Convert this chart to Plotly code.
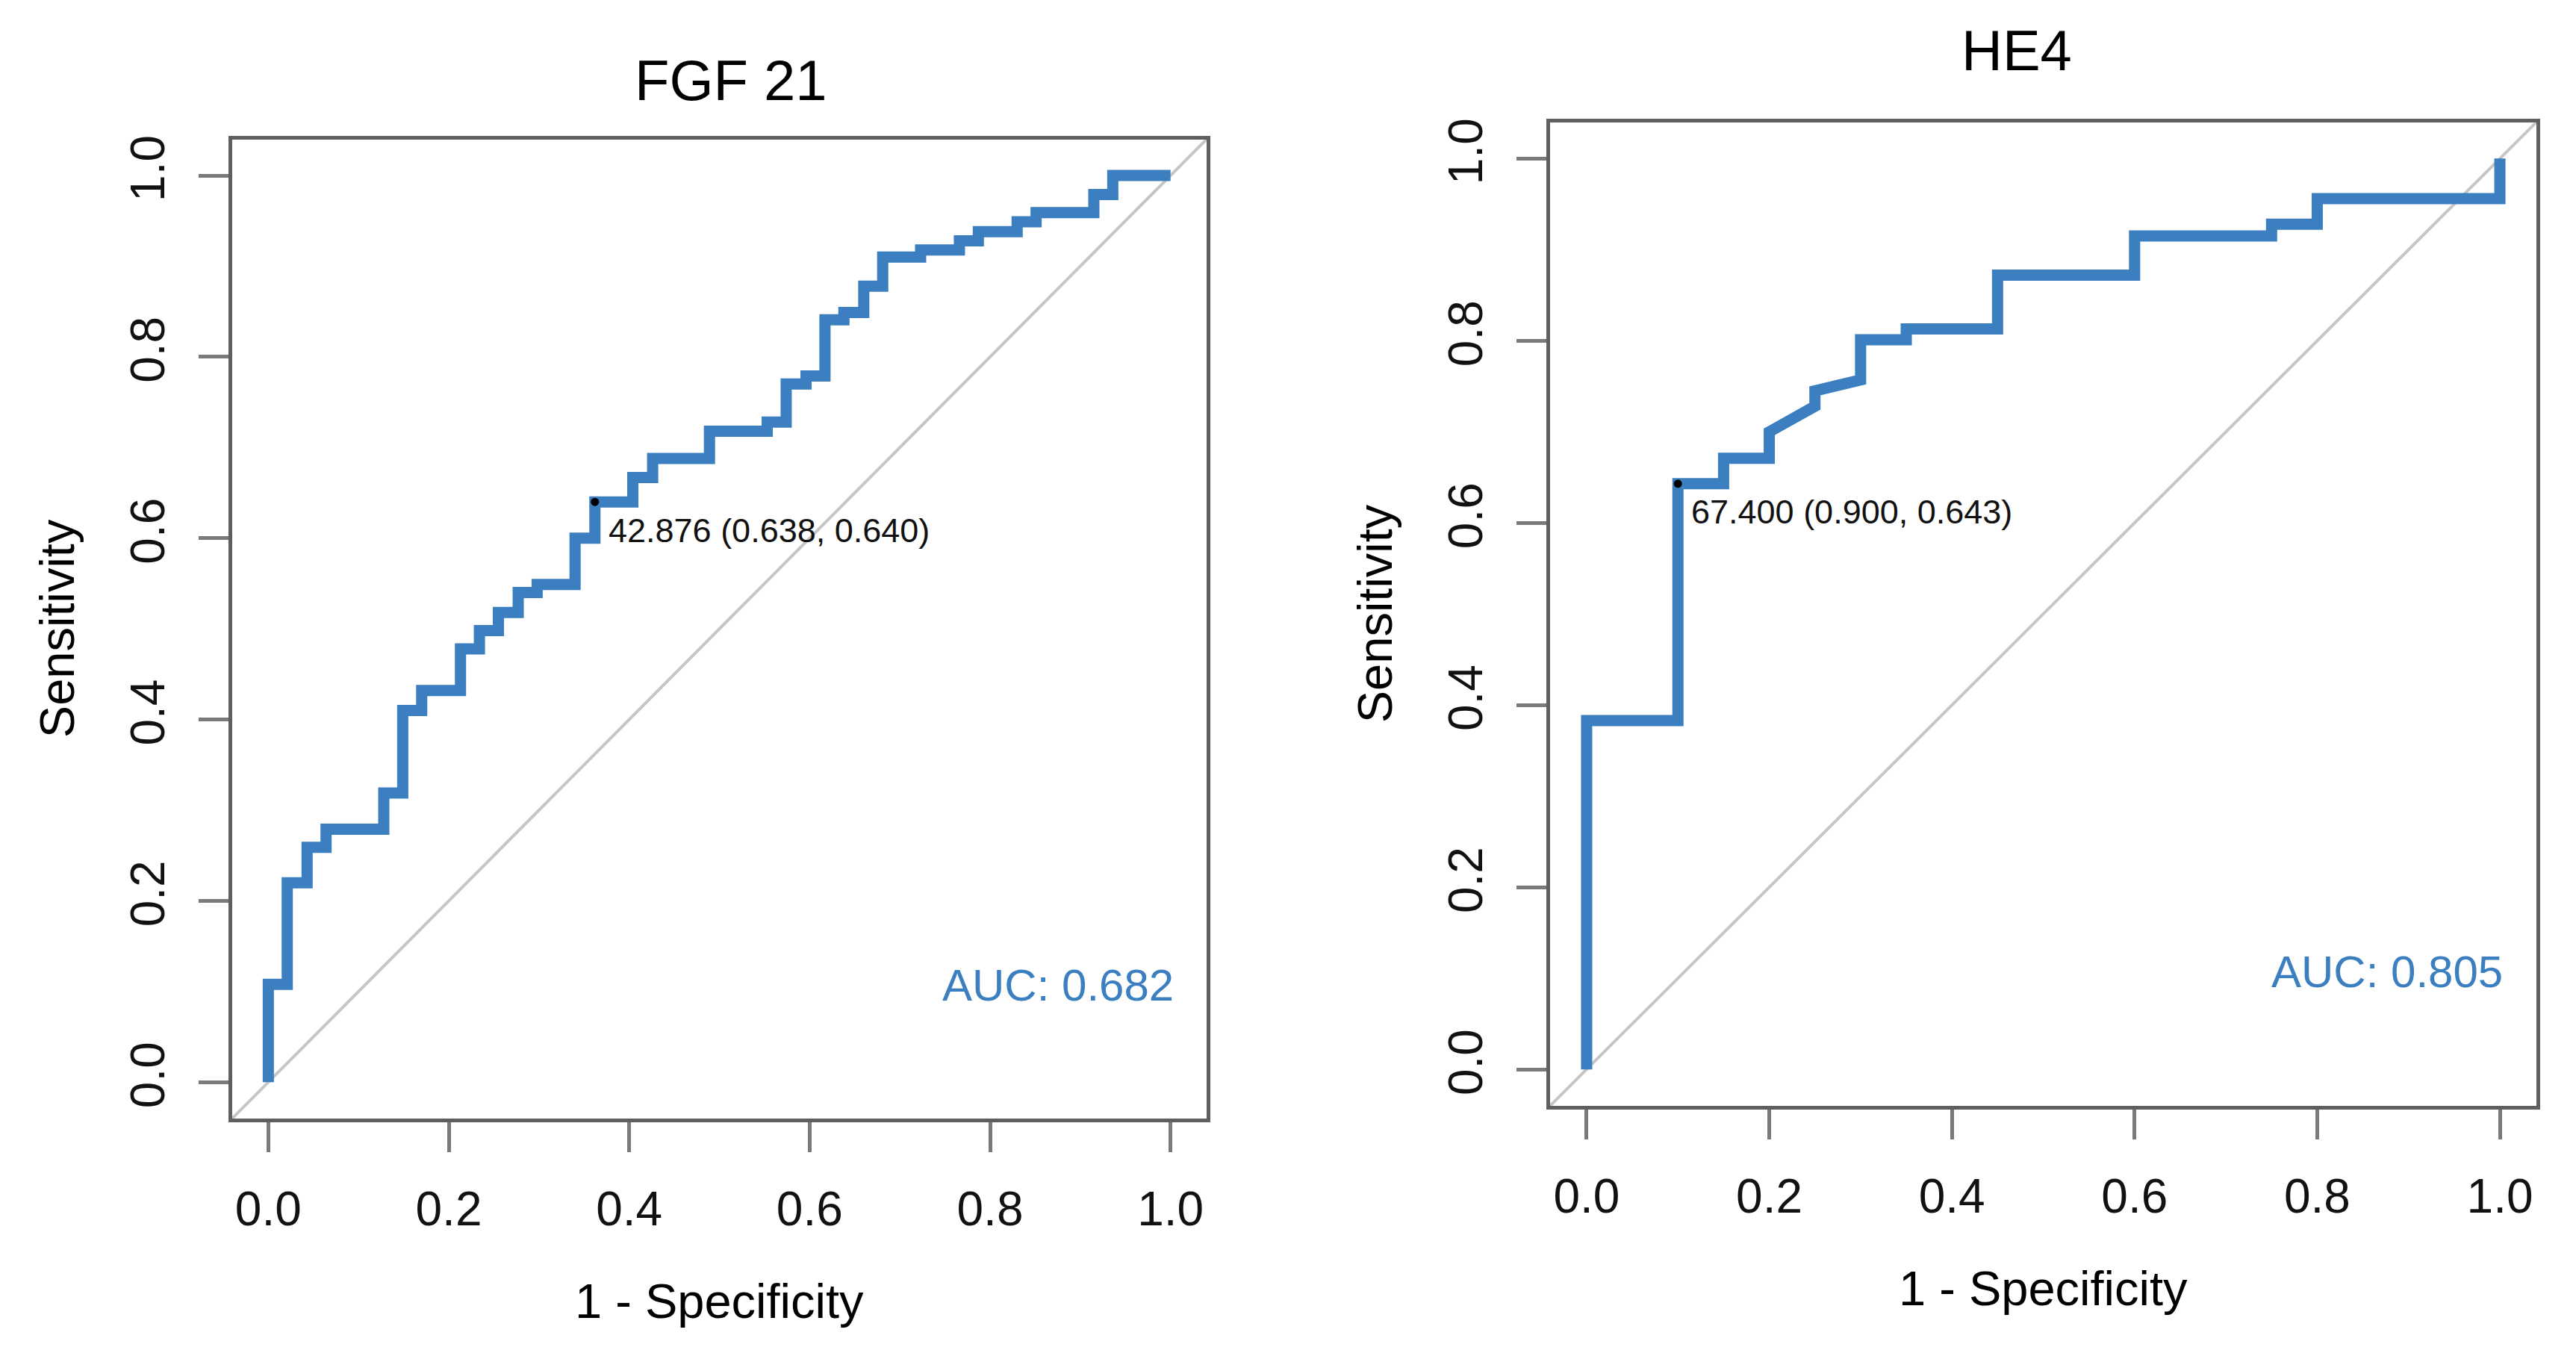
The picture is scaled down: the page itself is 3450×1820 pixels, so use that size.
import plotly.graph_objects as go

W, H = 3450, 1820

# ---------------- data ----------------
fgf_fpr = [0.0, 0.0, 0.021, 0.021, 0.043, 0.043, 0.064, 0.064, 0.128, 0.128,
           0.149, 0.149, 0.170, 0.170, 0.213, 0.213, 0.234, 0.234, 0.255, 0.255,
           0.277, 0.277, 0.298, 0.298, 0.340, 0.340, 0.362, 0.362, 0.404, 0.404,
           0.426, 0.426, 0.489, 0.489, 0.553, 0.553, 0.574, 0.574, 0.596, 0.596,
           0.617, 0.617, 0.638, 0.638, 0.660, 0.660, 0.681, 0.681, 0.723, 0.723,
           0.766, 0.766, 0.787, 0.787, 0.830, 0.830, 0.851, 0.851, 0.915, 0.915,
           0.936, 0.936, 1.0]
fgf_tpr = [0.0, 0.108, 0.108, 0.22, 0.22, 0.259, 0.259, 0.279, 0.279, 0.319,
           0.319, 0.41, 0.41, 0.432, 0.432, 0.478, 0.478, 0.498, 0.498, 0.518,
           0.518, 0.54, 0.54, 0.549, 0.549, 0.60, 0.60, 0.64, 0.64, 0.667,
           0.667, 0.688, 0.688, 0.718, 0.718, 0.728, 0.728, 0.77, 0.77, 0.779,
           0.779, 0.841, 0.841, 0.849, 0.849, 0.878, 0.878, 0.91, 0.91, 0.918,
           0.918, 0.928, 0.928, 0.938, 0.938, 0.949, 0.949, 0.959, 0.959, 0.979,
           0.979, 1.0, 1.0]

he4_fpr = [0.0, 0.0, 0.10, 0.10, 0.15, 0.15, 0.20, 0.20, 0.25, 0.25,
           0.30, 0.30, 0.35, 0.35, 0.45, 0.45, 0.60, 0.60, 0.75, 0.75,
           0.80, 0.80, 1.0, 1.0]
he4_tpr = [0.0, 0.383, 0.383, 0.643, 0.643, 0.671, 0.671, 0.70, 0.728, 0.745,
           0.757, 0.801, 0.801, 0.813, 0.813, 0.872, 0.872, 0.915, 0.915, 0.928,
           0.928, 0.956, 0.956, 1.0]

titles = ["FGF 21", "HE4"]
best_fpr = [0.362, 0.10]
best_tpr = [0.640, 0.643]
best_labels = ["42.876 (0.638, 0.640)", "67.400 (0.900, 0.643)"]
auc_labels = ["AUC: 0.682", "AUC: 0.805"]
tick_vals = [0.0, 0.2, 0.4, 0.6, 0.8, 1.0]
tick_text = ["0.0", "0.2", "0.4", "0.6", "0.8", "1.0"]

# ---------------- style ----------------
FONT = "Liberation Sans, Arial, Helvetica, sans-serif"
BLUE = "#3b7fc0"
BOXC = "#5f5f5f"
TICKC = "#7a7a7a"

# panel boxes in pixels: (left, right, top, bottom)
boxes = [(311, 1616, 182, 1497), (2076, 3397, 159, 1480)]
title_pos = [(979, 103), (2701, 63)]

fig = go.Figure()

curves = [(fgf_fpr, fgf_tpr), (he4_fpr, he4_tpr)]
annotations = []
shapes = []
for i, ((fx, fy), (l, r, t, b)) in enumerate(zip(curves, boxes)):
    xa = "x" if i == 0 else "x2"
    ya = "y" if i == 0 else "y2"
    fig.add_trace(go.Scatter(x=fx, y=fy, mode="lines", xaxis=xa, yaxis=ya,
                             line=dict(color=BLUE, width=15), showlegend=False,
                             hoverinfo="skip"))
    fig.add_trace(go.Scatter(x=[best_fpr[i]], y=[best_tpr[i]], mode="markers",
                             xaxis=xa, yaxis=ya,
                             marker=dict(color="black", size=11), showlegend=False))
    # diagonal reference line across the whole plotting region
    shapes.append(dict(type="line", xref=f"{xa} domain", yref=f"{ya} domain",
                       x0=0, y0=0, x1=1, y1=1, layer="below",
                       line=dict(color="#c6c6c6", width=4)))
    # threshold label
    annotations.append(dict(x=best_fpr[i], y=best_tpr[i], xref=xa, yref=ya,
                            text=best_labels[i], showarrow=False,
                            xanchor="left", yanchor="middle", xshift=16, yshift=-38,
                            font=dict(family=FONT, size=45, color="#111")))
    # AUC label
    annotations.append(dict(x=1.005, y=0.107, xref=xa, yref=ya,
                            text=auc_labels[i], showarrow=False,
                            xanchor="right", yanchor="middle",
                            font=dict(family=FONT, size=60, color=BLUE)))
    # title
    annotations.append(dict(x=title_pos[i][0] / W, y=1 - title_pos[i][1] / H,
                            xref="paper", yref="paper", text=titles[i],
                            showarrow=False, xanchor="center", yanchor="middle",
                            font=dict(family=FONT, size=76, color="black")))
    # axis titles
    annotations.append(dict(x=(l + r) / 2 / W, y=1 - (b + 245) / H,
                            xref="paper", yref="paper", text="1 - Specificity",
                            showarrow=False, xanchor="center", yanchor="middle",
                            font=dict(family=FONT, size=65, color="black")))
    annotations.append(dict(x=(l - 235) / W, y=1 - (t + b) / 2 / H,
                            xref="paper", yref="paper", text="Sensitivity",
                            showarrow=False, xanchor="center", yanchor="middle",
                            textangle=-90,
                            font=dict(family=FONT, size=65, color="black")))

axis_common = dict(range=[-0.04, 1.04], showgrid=False, zeroline=False,
                   showline=True, mirror=True, linecolor=BOXC, linewidth=5,
                   ticks="outside", ticklen=40, tickwidth=5, tickcolor=TICKC,
                   tickvals=tick_vals, ticktext=tick_text,
                   tickfont=dict(family=FONT, size=64, color="#111"),
                   fixedrange=True)

layout = dict(width=W, height=H, margin=dict(l=0, r=0, t=0, b=0),
              paper_bgcolor="white", plot_bgcolor="white",
              annotations=annotations, shapes=shapes, showlegend=False)
for i, (l, r, t, b) in enumerate(boxes):
    sfx = "" if i == 0 else "2"
    layout[f"xaxis{sfx}"] = dict(axis_common, domain=[l / W, r / W],
                                 anchor=f"y{sfx}", ticklabelstandoff=21)
    layout[f"yaxis{sfx}"] = dict(axis_common, domain=[1 - b / H, 1 - t / H],
                                 anchor=f"x{sfx}", tickangle=-90,
                                 ticklabelstandoff=20)

fig.update_layout(**layout)
fig.write_html("out.html", config={"displayModeBar": False},
               post_script="document.body.style.margin='0';")
